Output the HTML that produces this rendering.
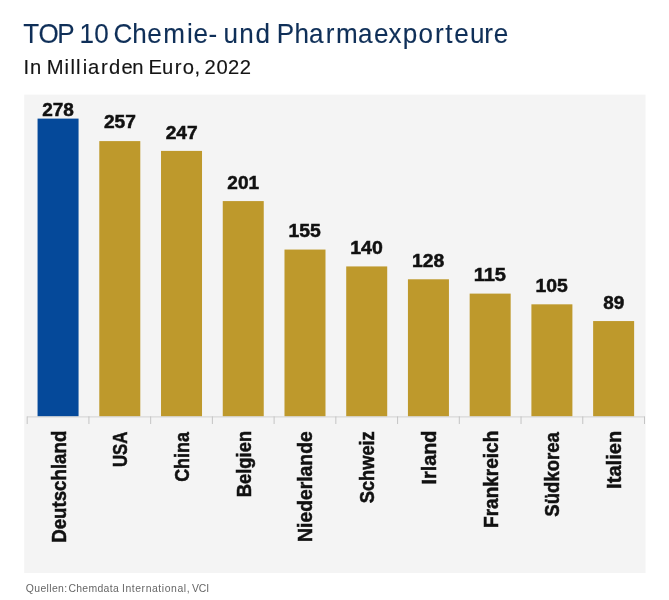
<!DOCTYPE html>
<html lang="de"><head><meta charset="utf-8"><title>TOP 10 Chemie- und Pharmaexporteure</title>
<style>
html,body{margin:0;padding:0;background:#fff;}
body{width:669px;height:600px;overflow:hidden;}
svg{display:block;font-family:"Liberation Sans",sans-serif;}
.v{font-weight:700;font-size:18.0px;fill:#111;stroke:#111;stroke-width:0.5;}
.c{font-weight:700;font-size:20.3px;fill:#111;stroke:#111;stroke-width:0.5;}
</style></head><body>
<svg width="669" height="600" viewBox="0 0 669 600">
<rect x="0" y="0" width="669" height="600" fill="#ffffff"/>
<text transform="translate(0,43) scale(0.9541,1)" x="24.32 40.26 60.11 75.67 83.31 98.76 112.46 118.94 138.67 154.31 171.08 195.98 202.89 218.64 226.40 234.29 250.82 267.88 282.26 289.96 308.58 323.86 341.36 352.14 375.21 391.97 407.13 422.09 438.61 456.02 466.70 476.08 492.55 507.64 517.38" font-size="27.3" fill="#0f2f58" stroke="#0f2f58" stroke-width="0.12">TOP 10 Chemie- und Pharmaexporteure</text>
<text transform="translate(0,74.3) scale(0.9811,1)" x="23.87 30.62 40.97 47.66 65.67 71.78 77.49 84.32 89.58 102.96 110.99 123.83 134.74 144.84 151.29 165.01 178.13 186.31 198.27 202.94 208.48 220.56 232.44 244.46" font-size="20.6" fill="#141414" stroke="#141414" stroke-width="0.15">In Milliarden Euro, 2022</text>
<rect x="24.2" y="94.6" width="621.3" height="478.4" fill="#f4f4f4"/>
<rect x="37.56" y="118.61" width="41.0" height="297.79" fill="#05499a"/>
<text class="v" x="42.20" y="115.70" textLength="31.67" lengthAdjust="spacingAndGlyphs">278</text>
<text class="c" transform="translate(65.56,541.60) rotate(-90)" x="-1.21" textLength="112.15" lengthAdjust="spacingAndGlyphs">Deutschland</text>
<rect x="99.29" y="141.10" width="41.0" height="275.30" fill="#be992c"/>
<text class="v" x="103.92" y="128.10" textLength="31.96" lengthAdjust="spacingAndGlyphs">257</text>
<text class="c" transform="translate(127.29,466.10) rotate(-90)" x="-1.01" textLength="35.58" lengthAdjust="spacingAndGlyphs">USA</text>
<rect x="161.02" y="150.91" width="41.0" height="265.49" fill="#be992c"/>
<text class="v" x="165.65" y="138.51" textLength="31.96" lengthAdjust="spacingAndGlyphs">247</text>
<text class="c" transform="translate(189.02,481.10) rotate(-90)" x="-0.72" textLength="49.76" lengthAdjust="spacingAndGlyphs">China</text>
<rect x="222.75" y="201.09" width="41.0" height="215.31" fill="#be992c"/>
<text class="v" x="227.39" y="188.69" textLength="31.67" lengthAdjust="spacingAndGlyphs">201</text>
<text class="c" transform="translate(250.75,496.10) rotate(-90)" x="-1.20" textLength="66.52" lengthAdjust="spacingAndGlyphs">Belgien</text>
<rect x="284.49" y="249.56" width="41.0" height="166.84" fill="#be992c"/>
<text class="v" x="288.52" y="236.96" textLength="32.27" lengthAdjust="spacingAndGlyphs">155</text>
<text class="c" transform="translate(312.49,540.70) rotate(-90)" x="-1.26" textLength="110.66" lengthAdjust="spacingAndGlyphs">Niederlande</text>
<rect x="346.21" y="266.43" width="41.0" height="149.97" fill="#be992c"/>
<text class="v" x="350.25" y="253.93" textLength="32.47" lengthAdjust="spacingAndGlyphs">140</text>
<text class="c" transform="translate(374.21,502.80) rotate(-90)" x="-0.46" textLength="71.99" lengthAdjust="spacingAndGlyphs">Schweiz</text>
<rect x="407.94" y="279.29" width="41.0" height="137.11" fill="#be992c"/>
<text class="v" x="411.98" y="266.79" textLength="32.27" lengthAdjust="spacingAndGlyphs">128</text>
<text class="c" transform="translate(435.94,483.30) rotate(-90)" x="-1.29" textLength="53.99" lengthAdjust="spacingAndGlyphs">Irland</text>
<rect x="469.67" y="293.61" width="41.0" height="122.79" fill="#be992c"/>
<text class="v" x="473.67" y="281.11" textLength="32.33" lengthAdjust="spacingAndGlyphs">115</text>
<text class="c" transform="translate(497.67,526.70) rotate(-90)" x="-1.24" textLength="97.19" lengthAdjust="spacingAndGlyphs">Frankreich</text>
<rect x="531.40" y="304.32" width="41.0" height="112.08" fill="#be992c"/>
<text class="v" x="535.44" y="291.82" textLength="32.27" lengthAdjust="spacingAndGlyphs">105</text>
<text class="c" transform="translate(559.40,516.20) rotate(-90)" x="-0.46" textLength="84.60" lengthAdjust="spacingAndGlyphs">Südkorea</text>
<rect x="593.13" y="321.06" width="41.0" height="95.34" fill="#be992c"/>
<text class="v" x="603.17" y="309.06" textLength="21.05" lengthAdjust="spacingAndGlyphs">89</text>
<text class="c" transform="translate(621.13,487.60) rotate(-90)" x="-1.31" textLength="58.24" lengthAdjust="spacingAndGlyphs">Italien</text>
<path d="M27.2 416.9 H644.50" stroke="#d2d2d2" stroke-width="1" fill="none"/>
<path d="M27.20 416.4 V424 M88.93 416.4 V424 M150.66 416.4 V424 M212.39 416.4 V424 M274.12 416.4 V424 M335.85 416.4 V424 M397.58 416.4 V424 M459.31 416.4 V424 M521.04 416.4 V424 M582.77 416.4 V424 M644.50 416.4 V424 " stroke="#c4c4c4" stroke-width="1" fill="none"/>
<text transform="translate(0,591.8) scale(0.9500,1)" font-size="11.0" fill="#666666"><tspan x="27.19" letter-spacing="0.356">Quellen:</tspan> <tspan x="71.98" letter-spacing="0.326">Chemdata</tspan> <tspan x="128.38" letter-spacing="0.586">International,</tspan> <tspan x="202.11" letter-spacing="-0.159">VCI</tspan></text>
</svg></body></html>
